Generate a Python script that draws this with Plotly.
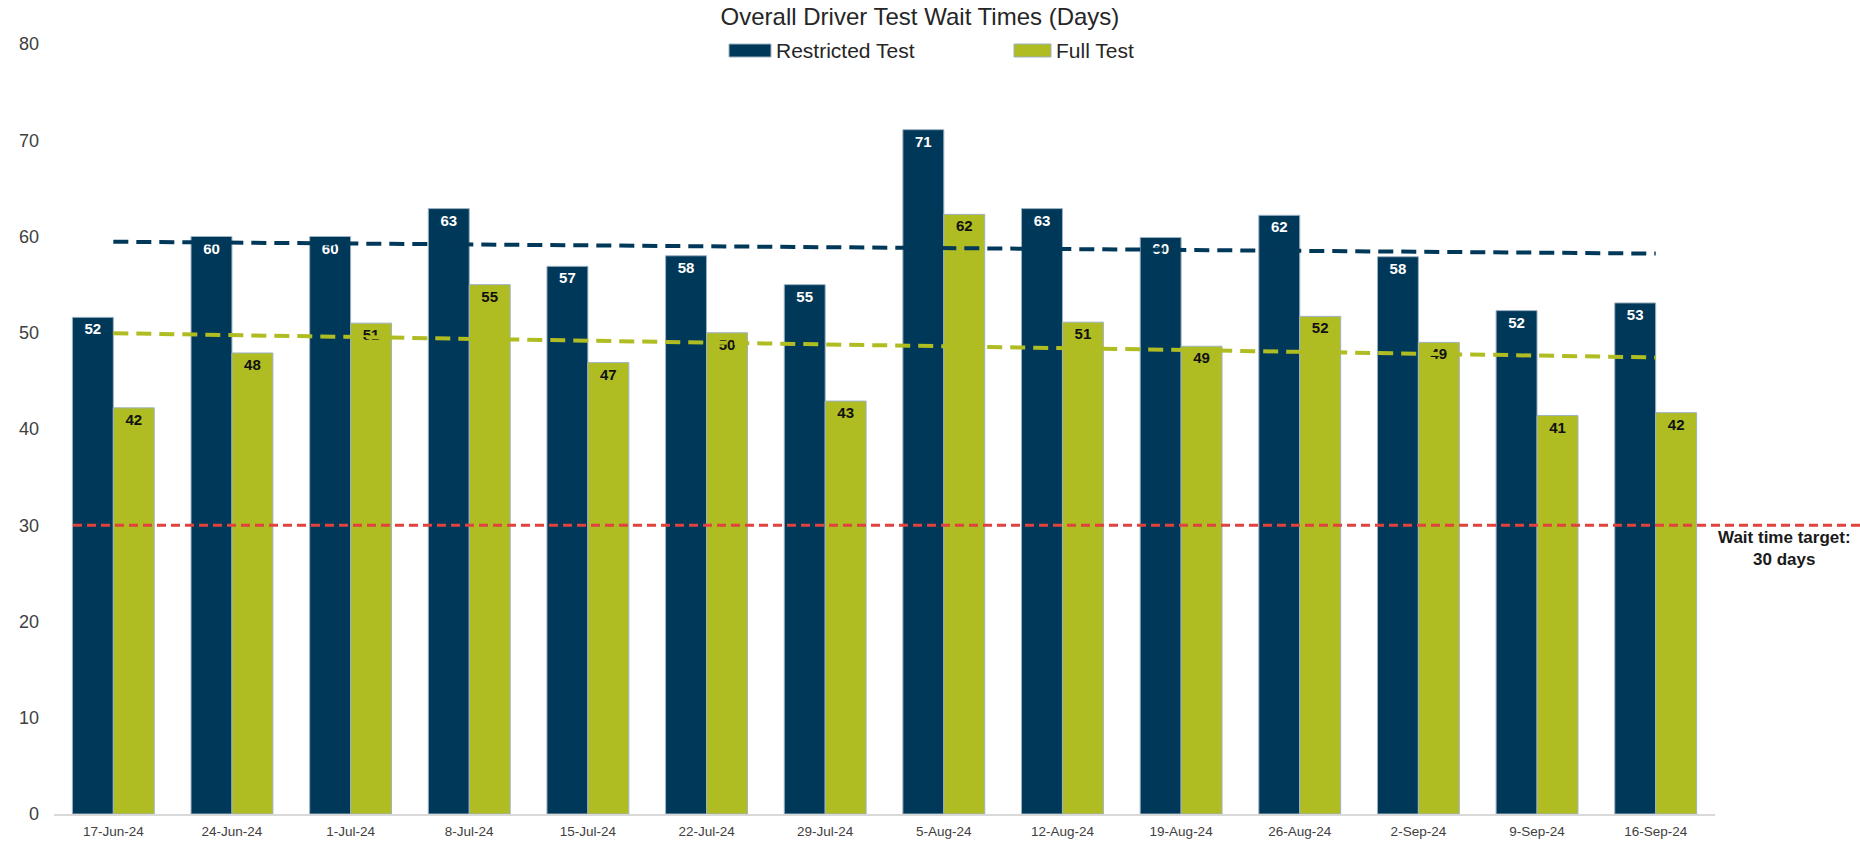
import numpy as np
import plotly.graph_objects as go

weeks = ["17-Jun-24", "24-Jun-24", "1-Jul-24", "8-Jul-24", "15-Jul-24", "22-Jul-24", "29-Jul-24",
         "5-Aug-24", "12-Aug-24", "19-Aug-24", "26-Aug-24", "2-Sep-24", "9-Sep-24", "16-Sep-24"]
restricted = [51.6, 60.0, 60.0, 62.9, 56.9, 58.0, 55.0, 71.1, 62.9, 59.9, 62.2, 57.9, 52.3, 53.1]
full_test = [42.2, 47.9, 51.0, 55.0, 46.9, 50.0, 42.9, 62.3, 51.1, 48.6, 51.7, 49.0, 41.4, 41.7]
target_days = 30
y_ticks = [0, 10, 20, 30, 40, 50, 60, 70, 80]

NAVY = "#003859"
GREEN = "#afbc22"
EDGE = "#9fb2c3"
RED = "#e0423d"
FONT = "Liberation Sans, Arial, sans-serif"

W, H = 1860, 841
L, R, T, B = 54, 145, 44, 27


def px(x):
    return (x - L) / (W - L - R)


def py(y):
    return (H - B - y) / (H - T - B)


def trend(vals):
    idx = np.arange(len(vals))
    slope, icpt = np.polyfit(idx, vals, 1)
    return slope * idx + icpt


fig = go.Figure()

fig.add_trace(go.Bar(
    x=weeks, y=restricted, name="Restricted Test",
    marker=dict(color=NAVY, line=dict(color=EDGE, width=1)),
    texttemplate="%{y:.0f}", textposition="inside", insidetextanchor="end",
    textangle=0, textfont=dict(color="white", size=15, family=FONT, weight="bold"),
    showlegend=False,
))
fig.add_trace(go.Bar(
    x=weeks, y=full_test, name="Full Test",
    marker=dict(color=GREEN, line=dict(color=EDGE, width=1)),
    texttemplate="%{y:.0f}", textposition="inside", insidetextanchor="end",
    textangle=0, textfont=dict(color="#111111", size=15, family=FONT, weight="bold"),
    showlegend=False,
))

# linear trendlines
fig.add_trace(go.Scatter(x=weeks, y=trend(restricted), mode="lines",
                         line=dict(color=NAVY, width=4, dash="15px,8px"),
                         hoverinfo="skip", showlegend=False))
fig.add_trace(go.Scatter(x=weeks, y=trend(full_test), mode="lines",
                         line=dict(color=GREEN, width=4, dash="15px,8px"),
                         hoverinfo="skip", showlegend=False))

# target line
fig.add_shape(type="line", xref="paper", yref="y", x0=px(73), x1=px(1860),
              y0=target_days, y1=target_days,
              line=dict(color=RED, width=3, dash="9px,5px"))
fig.add_annotation(xref="paper", yref="paper", x=px(1784), y=py(548),
                   text="Wait time target:<br>30 days", showarrow=False,
                   align="center", xanchor="center", yanchor="middle",
                   font=dict(size=17, color="#1a1a1a", family=FONT, weight="bold"))

# legend drawn by hand (wide swatches)
legend_items = [("Restricted Test", NAVY, 729, 771, 774), ("Full Test", GREEN, 1014, 1051, 1054)]
for label, col, x0, x1, tx in legend_items:
    fig.add_shape(type="rect", xref="paper", yref="paper", x0=px(x0), x1=px(x1),
                  y0=py(57), y1=py(44), fillcolor=col, line=dict(color=EDGE, width=1))
    fig.add_annotation(xref="paper", yref="paper", x=px(tx), y=py(50), text=label,
                       showarrow=False, xanchor="left", yanchor="middle",
                       font=dict(size=21, color="#262626", family=FONT))

fig.update_layout(
    template="none",
    width=W, height=H,
    margin=dict(l=L, r=R, t=T, b=B, pad=0),
    paper_bgcolor="white", plot_bgcolor="white",
    barmode="group", bargap=0.31, bargroupgap=0,
    font=dict(family=FONT, color="#404040"),
    title=dict(text="Overall Driver Test Wait Times (Days)", xref="container", x=0.4946,
               xanchor="center", yref="container", y=1 - 17 / H, yanchor="middle",
               font=dict(size=24, color="#262626", family=FONT)),
    xaxis=dict(showgrid=False, showline=True, linecolor="#d9d9d9", linewidth=2,
               ticks="", tickfont=dict(size=13.5, color="#404040"), ticklabelstandoff=4,
               zeroline=False),
    yaxis=dict(range=[0, 80], tickvals=y_ticks, showgrid=False, showline=False,
               zeroline=False, ticks="", tickfont=dict(size=18, color="#404040"),
               ticklabelstandoff=14),
)

fig.write_html("out.html", config={"displayModeBar": False},
               post_script="document.body.style.margin='0';document.body.style.overflow='hidden';")
